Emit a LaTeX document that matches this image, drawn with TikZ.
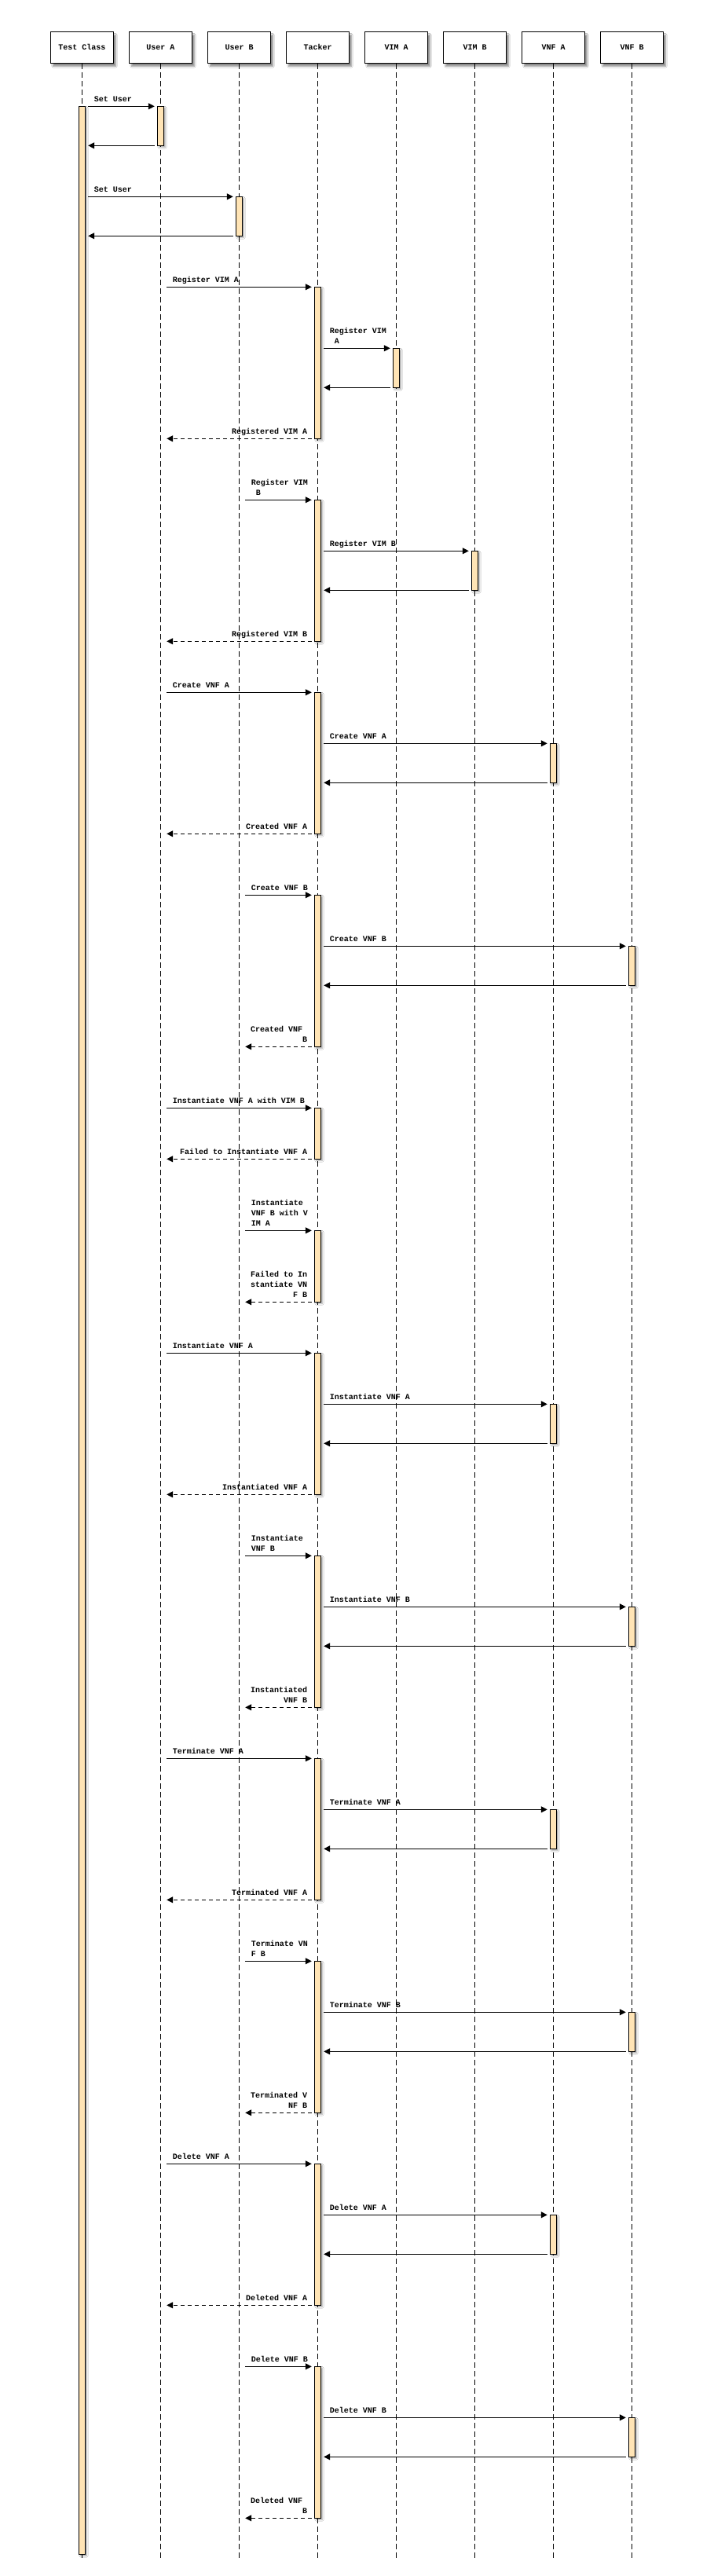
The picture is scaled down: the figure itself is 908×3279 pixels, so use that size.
\documentclass[tikz,border=0pt]{standalone}
\usepackage{fontspec}
\setmonofont{Liberation Mono}
\usetikzlibrary{arrows.meta,shadows.blur}
\definecolor{actfill}{RGB}{255,228,181}
\newcommand{\lblf}{\fontsize{10}{13.3}\selectfont\ttfamily\bfseries}
\def\xTC{104.5}\def\xUA{204.5}\def\xUB{304.5}\def\xTK{404.5}
\def\xVA{504.5}\def\xVB{604.5}\def\xNA{704.5}\def\xNB{804.5}
% rightward call with label
\newcommand{\seqR}[5]{%
  \coordinate (#1s) at ({#2+7.7},#4);
  \coordinate (#1e) at ({#3-7.7},#4);
  \draw[msg] (#1s) -- (#1e);
  \node[lblR] (#1t) at ([xshift=7.5pt,yshift=5.5pt]#1s) {#5};}
% leftward solid return, no label
\newcommand{\seqB}[4]{%
  \coordinate (#1s) at ({#2-7.7},#4);
  \coordinate (#1e) at ({#3+7.7},#4);
  \draw[msg] (#1s) -- (#1e);}
% leftward dashed reply with label
\newcommand{\seqD}[5]{%
  \coordinate (#1s) at ({#2-7.7},#4);
  \coordinate (#1e) at ({#3+7.7},#4);
  \draw[reply] (#1s) -- (#1e);
  \node[lblL] (#1t) at ([xshift=-5.5pt,yshift=5.5pt]#1s) {#5};}
% activation bar
\newcommand{\seqA}[4]{%
  \node[act, minimum height={(#4-#3)*1pt}] (#1) at (#2,{(#3+#4)/2}) {};}
\begin{document}
\begin{tikzpicture}[x=1pt,y=-1pt,
  actor/.style={draw, line width=1.2pt, fill=white, minimum width=80pt,
    minimum height=40pt, inner sep=0pt, font=\lblf,
    blur shadow={shadow xshift=3pt,shadow yshift=-4pt,shadow blur steps=6,shadow opacity=45}},
  life/.style={line width=0.9pt, dash pattern=on 7pt off 4pt},
  act/.style={draw, line width=1pt, fill=actfill, minimum width=8pt, inner sep=0pt,
    blur shadow={shadow xshift=2pt,shadow yshift=-2pt,shadow blur steps=4,shadow opacity=35}},
  msg/.style={line width=1.1pt, -{Triangle[length=8pt,width=8pt]}},
  reply/.style={msg, dash pattern=on 5pt off 4pt},
  lblR/.style={anchor=south west, inner sep=0pt, align=left, text depth=0pt, font=\lblf},
  lblL/.style={anchor=south east, inner sep=0pt, align=right, text depth=0pt, font=\lblf}]
\path[fill=white] (0,0) rectangle (908,3279);
% actors
\node[actor] (tc) at (\xTC,60.3) {Test Class};
\node[actor] (ua) at (\xUA,60.3) {User A};
\node[actor] (ub) at (\xUB,60.3) {User B};
\node[actor] (tk) at (\xTK,60.3) {Tacker};
\node[actor] (va) at (\xVA,60.3) {VIM A};
\node[actor] (vb) at (\xVB,60.3) {VIM B};
\node[actor] (na) at (\xNA,60.3) {VNF A};
\node[actor] (nb) at (\xNB,60.3) {VNF B};
% lifelines
\foreach \n/\x in {tc/\xTC,ua/\xUA,ub/\xUB,tk/\xTK,va/\xVA,vb/\xVB,na/\xNA,nb/\xNB}{
  \coordinate (\n E) at (\x,3255.7);
  \draw[life] (\n.south) -- (\n E);
}
% activations
\seqA{aTC}{\xTC}{135.3}{3251.3}
\seqA{aUA}{\xUA}{135.3}{185.3}
\seqA{aUB}{\xUB}{250.3}{300.3}
\seqA{aK1}{\xTK}{365.3}{558.3}
\seqA{aVA}{\xVA}{443.3}{493.3}
\seqA{aK2}{\xTK}{636.3}{816.3}
\seqA{aVB}{\xVB}{701.3}{751.3}
\seqA{aK3}{\xTK}{881.3}{1061.3}
\seqA{aN1}{\xNA}{946.3}{996.3}
\seqA{aK4}{\xTK}{1139.3}{1332.3}
\seqA{aM1}{\xNB}{1204.3}{1254.3}
\seqA{aK5}{\xTK}{1410.3}{1475.3}
\seqA{aK6}{\xTK}{1566.3}{1657.3}
\seqA{aK7}{\xTK}{1722.3}{1902.3}
\seqA{aN2}{\xNA}{1787.3}{1837.3}
\seqA{aK8}{\xTK}{1980.3}{2173.3}
\seqA{aM2}{\xNB}{2045.3}{2095.3}
\seqA{aK9}{\xTK}{2238.3}{2418.3}
\seqA{aN3}{\xNA}{2303.3}{2353.3}
\seqA{aK10}{\xTK}{2496.3}{2689.3}
\seqA{aM3}{\xNB}{2561.3}{2611.3}
\seqA{aK11}{\xTK}{2754.3}{2934.3}
\seqA{aN4}{\xNA}{2819.3}{2869.3}
\seqA{aK12}{\xTK}{3012.3}{3205.3}
\seqA{aM4}{\xNB}{3077.3}{3127.3}
% messages
\seqR{m1}{\xTC}{\xUA}{135.3}{Set User}
\seqB{m2}{\xUA}{\xTC}{185.3}
\seqR{m3}{\xTC}{\xUB}{250.3}{Set User}
\seqB{m4}{\xUB}{\xTC}{300.3}
\seqR{m5}{\xUA}{\xTK}{365.3}{Register VIM A}
\seqR{m6}{\xTK}{\xVA}{443.3}{Register VIM\\\phantom{x}A}
\seqB{m7}{\xVA}{\xTK}{493.3}
\seqD{m8}{\xTK}{\xUA}{558.3}{Registered VIM A}
\seqR{m9}{\xUB}{\xTK}{636.3}{Register VIM\\\phantom{x}B}
\seqR{m10}{\xTK}{\xVB}{701.3}{Register VIM B}
\seqB{m11}{\xVB}{\xTK}{751.3}
\seqD{m12}{\xTK}{\xUA}{816.3}{Registered VIM B}
\seqR{m13}{\xUA}{\xTK}{881.3}{Create VNF A}
\seqR{m14}{\xTK}{\xNA}{946.3}{Create VNF A}
\seqB{m15}{\xNA}{\xTK}{996.3}
\seqD{m16}{\xTK}{\xUA}{1061.3}{Created VNF A}
\seqR{m17}{\xUB}{\xTK}{1139.3}{Create VNF B}
\seqR{m18}{\xTK}{\xNB}{1204.3}{Create VNF B}
\seqB{m19}{\xNB}{\xTK}{1254.3}
\seqD{m20}{\xTK}{\xUB}{1332.3}{Created VNF\phantom{x}\\B}
\seqR{m21}{\xUA}{\xTK}{1410.3}{Instantiate VNF A with VIM B}
\seqD{m22}{\xTK}{\xUA}{1475.3}{Failed to Instantiate VNF A}
\seqR{m23}{\xUB}{\xTK}{1566.3}{Instantiate\\VNF B with V\\IM A}
\seqD{m24}{\xTK}{\xUB}{1657.3}{Failed to In\\stantiate VN\\F B}
\seqR{m25}{\xUA}{\xTK}{1722.3}{Instantiate VNF A}
\seqR{m26}{\xTK}{\xNA}{1787.3}{Instantiate VNF A}
\seqB{m27}{\xNA}{\xTK}{1837.3}
\seqD{m28}{\xTK}{\xUA}{1902.3}{Instantiated VNF A}
\seqR{m29}{\xUB}{\xTK}{1980.3}{Instantiate\\VNF B}
\seqR{m30}{\xTK}{\xNB}{2045.3}{Instantiate VNF B}
\seqB{m31}{\xNB}{\xTK}{2095.3}
\seqD{m32}{\xTK}{\xUB}{2173.3}{Instantiated\\VNF B}
\seqR{m33}{\xUA}{\xTK}{2238.3}{Terminate VNF A}
\seqR{m34}{\xTK}{\xNA}{2303.3}{Terminate VNF A}
\seqB{m35}{\xNA}{\xTK}{2353.3}
\seqD{m36}{\xTK}{\xUA}{2418.3}{Terminated VNF A}
\seqR{m37}{\xUB}{\xTK}{2496.3}{Terminate VN\\F B}
\seqR{m38}{\xTK}{\xNB}{2561.3}{Terminate VNF B}
\seqB{m39}{\xNB}{\xTK}{2611.3}
\seqD{m40}{\xTK}{\xUB}{2689.3}{Terminated V\\NF B}
\seqR{m41}{\xUA}{\xTK}{2754.3}{Delete VNF A}
\seqR{m42}{\xTK}{\xNA}{2819.3}{Delete VNF A}
\seqB{m43}{\xNA}{\xTK}{2869.3}
\seqD{m44}{\xTK}{\xUA}{2934.3}{Deleted VNF A}
\seqR{m45}{\xUB}{\xTK}{3012.3}{Delete VNF B}
\seqR{m46}{\xTK}{\xNB}{3077.3}{Delete VNF B}
\seqB{m47}{\xNB}{\xTK}{3127.3}
\seqD{m48}{\xTK}{\xUB}{3205.3}{Deleted VNF\phantom{x}\\B}
\end{tikzpicture}
\end{document}
